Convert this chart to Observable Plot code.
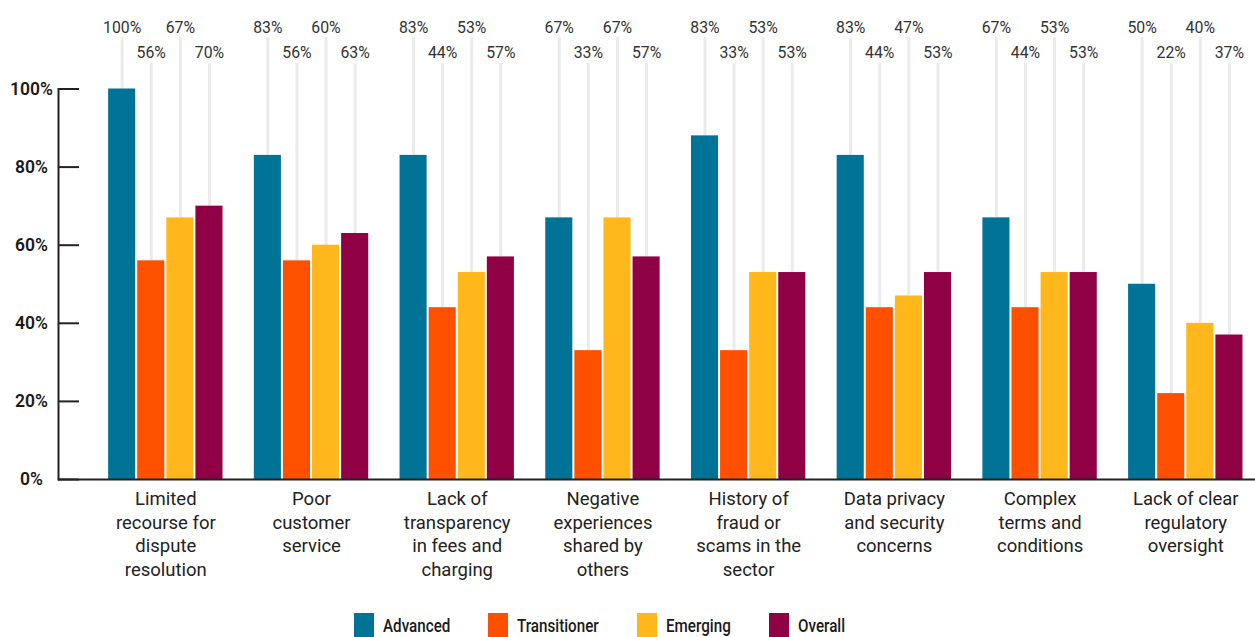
<!DOCTYPE html>
<html>
<head>
<meta charset="utf-8">
<script src="https://cdn.jsdelivr.net/npm/d3@7"></script>
<script src="https://cdn.jsdelivr.net/npm/@observablehq/plot@0.6"></script>
<style>
  body { margin: 0; background: #fff; font-family: Roboto, sans-serif; }
  #legend { display: flex; margin-left: 354px; margin-top: 13px; align-items: center; }
  .item { display: flex; align-items: center; margin-right: 38px; }
  .sw { width: 20px; height: 24px; margin-right: 9px; }
  .lab { font-family: Roboto, sans-serif; font-weight: 500; font-size: 19px; color: #1a1a1a; display: inline-block; transform: scaleX(0.8); transform-origin: left center; white-space: nowrap; }
</style>
</head>
<body>
<div id="chart"></div>
<div id="legend"></div>
<script>
const categories = [
  "Limited recourse for dispute resolution",
  "Poor customer service",
  "Lack of transparency in fees and charging",
  "Negative experiences shared by others",
  "History of fraud or scams in the sector",
  "Data privacy and security concerns",
  "Complex terms and conditions",
  "Lack of clear regulatory oversight"
];
const categoryLines = [
  "Limited\nrecourse for\ndispute\nresolution",
  "Poor\ncustomer\nservice",
  "Lack of\ntransparency\nin fees and\ncharging",
  "Negative\nexperiences\nshared by\nothers",
  "History of\nfraud or\nscams in the\nsector",
  "Data privacy\nand security\nconcerns",
  "Complex\nterms and\nconditions",
  "Lack of clear\nregulatory\noversight"
];
const seriesNames = ["Advanced", "Transitioner", "Emerging", "Overall"];
const seriesColors = ["#007396", "#ff5000", "#ffb71b", "#900045"];

// bar heights as drawn (%)
const advanced     = [100, 83, 83, 67, 88, 83, 67, 50];
const transitioner = [56, 56, 44, 33, 33, 44, 44, 22];
const emerging     = [67, 60, 53, 67, 53, 47, 53, 40];
const overall      = [70, 63, 57, 57, 53, 53, 53, 37];
// printed labels (%)
const advancedLabels     = [100, 83, 83, 67, 83, 83, 67, 50];
const transitionerLabels = [56, 56, 44, 33, 33, 44, 44, 22];
const emergingLabels     = [67, 60, 53, 67, 53, 47, 53, 40];
const overallLabels      = [70, 63, 57, 57, 53, 53, 53, 37];

const yTicks = [0, 20, 40, 60, 80, 100];

const seriesValues = [advanced, transitioner, emerging, overall];
const seriesLabels = [advancedLabels, transitionerLabels, emergingLabels, overallLabels];

const rows = [];
seriesNames.forEach((s, si) => {
  categories.forEach((c, ci) => {
    rows.push({category: c, series: s, si, value: seriesValues[si][ci], label: seriesLabels[si][ci]});
  });
});

const barStep = 29.1;
const groupW = 114.4;
const marks = [];
seriesNames.forEach((s, si) => {
  const data = rows.filter(d => d.si === si);
  const dx = 13.5 + barStep * si - groupW / 2;
  const upper = si % 2 === 0;
  marks.push(Plot.ruleX(data, {
    x: "category", y1: () => 100, y2: "value", dx,
    stroke: "#ebebeb", strokeWidth: 3,
    insetTop: upper ? -51.5 : -25.5
  }));
});
seriesNames.forEach((s, si) => {
  const data = rows.filter(d => d.si === si);
  marks.push(Plot.barY(data, {
    x: "category", y: "value", fill: seriesColors[si],
    insetLeft: barStep * si, insetRight: barStep * (3 - si)
  }));
});
seriesNames.forEach((s, si) => {
  const data = rows.filter(d => d.si === si);
  const dx = 13.5 + barStep * si - groupW / 2;
  const upper = si % 2 === 0;
  marks.push(Plot.text(data, {
    x: "category", text: d => d.label + "%", frameAnchor: "top",
    dx, dy: upper ? -67.5 : -42.5,
    fontSize: 15.8, fill: "#333"
  }));
});

const chart = Plot.plot({
  width: 1255,
  height: 600,
  marginTop: 88.5,
  marginBottom: 121,
  marginLeft: 58,
  marginRight: 0,
  style: {fontFamily: "Roboto, sans-serif", background: "#fff"},
  x: {domain: categories, paddingInner: 0.215, paddingOuter: 0.215, align: 0.8, round: false, axis: null, label: null},
  y: {domain: [0, 100], axis: null, label: null},
  marks: [
    ...marks,
    Plot.axisX({
      tickSize: 0, tickPadding: 9, label: null,
      tickFormat: d => categoryLines[categories.indexOf(d)],
      fontSize: 18.5, lineHeight: 1.27, fill: "#222"
    }),
    Plot.axisY({
      ticks: yTicks, tickSize: 0, tickPadding: 27, textAnchor: "middle", label: null,
      tickFormat: d => d + "%", fontSize: 17.5, fontWeight: 600, fill: "#1a1a1a"
    }),
    Plot.axisY({
      ticks: yTicks, tickSize: 21, dx: 21, tickFormat: () => "", label: null,
      stroke: "#222", strokeWidth: 2
    }),
    Plot.ruleY([0], {stroke: "#222", strokeWidth: 2}),
    Plot.frame({anchor: "left", stroke: "#222", strokeWidth: 2})
  ]
});
document.getElementById("chart").appendChild(chart);

const legend = document.getElementById("legend");
seriesNames.forEach((s, si) => {
  const item = document.createElement("div");
  item.className = "item";
  const sw = document.createElement("div");
  sw.className = "sw";
  sw.style.background = seriesColors[si];
  const lab = document.createElement("span");
  lab.className = "lab";
  lab.textContent = s;
  item.appendChild(sw);
  item.appendChild(lab);
  legend.appendChild(item);
  const w = lab.getBoundingClientRect().width / 0.8;
  lab.style.marginRight = (-(w * 0.2)) + "px";
});
</script>
</body>
</html>
